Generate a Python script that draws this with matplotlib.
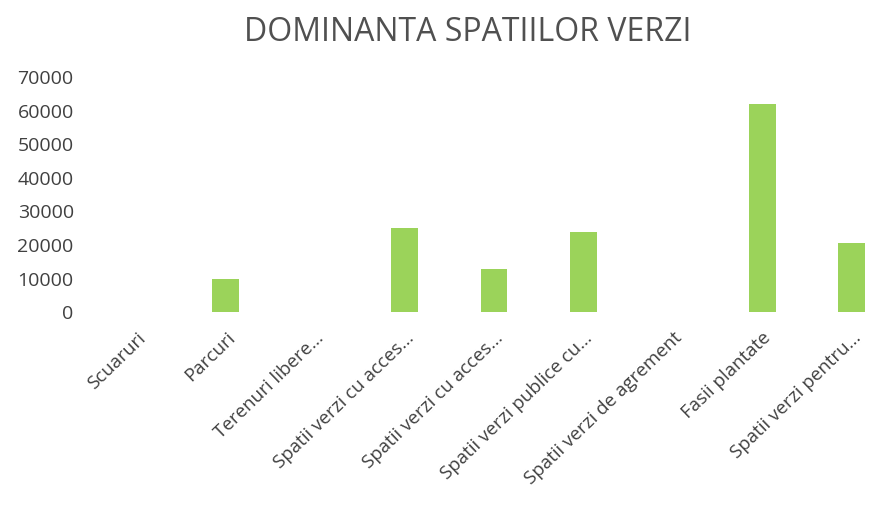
import matplotlib
matplotlib.use("Agg")
import matplotlib.pyplot as plt

categories = ["Scuaruri", "Parcuri", "Terenuri libere...", "Spatii verzi cu acces...",
              "Spatii verzi cu acces...", "Spatii verzi publice cu...",
              "Spatii verzi de agrement", "Fasii plantate", "Spatii verzi pentru..."]
values = [0, 10000, 0, 25000, 13000, 24000, 0, 62000, 20500]
yticks = [0, 10000, 20000, 30000, 40000, 50000, 60000, 70000]

plt.rcParams['font.family'] = ['Open Sans', 'DejaVu Sans']

fig = plt.figure(figsize=(8.74, 5.22), dpi=100)
ax = fig.add_axes([0.105, 0.402, 0.895, 0.45])
x = list(range(len(categories)))
ax.bar(x, values, width=0.3, color='#9BD35A')
ax.set_xlim(-0.5, 8.25)
ax.set_ylim(0, 70000)
ax.set_yticks(yticks)
ax.set_yticklabels([str(v) for v in yticks], fontsize=14, color='#404040')
ax.set_xticks(x)
ax.set_xticklabels(categories, rotation=44, ha='right', rotation_mode='anchor',
                   fontsize=13.5, color='#404040')
ax.tick_params(axis='both', length=0)
ax.tick_params(axis='x', pad=12)
ax.tick_params(axis='y', pad=13)
for s in ax.spines.values():
    s.set_visible(False)
fig.text(0.535, 0.937, "DOMINANTA SPATIILOR VERZI", ha='center', va='center',
         fontsize=23, color='#505050')
fig.savefig("out.png", dpi=100, facecolor='white')
